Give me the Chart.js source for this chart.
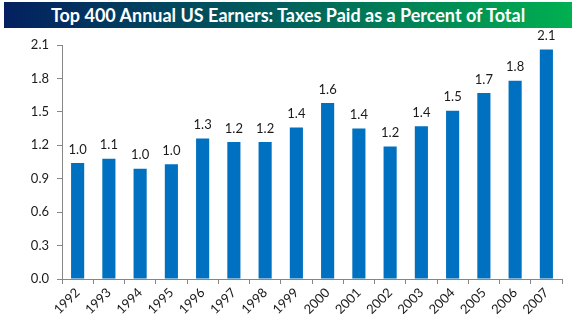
<!DOCTYPE html>
<html>
<head>
<meta charset="utf-8">
<script src="https://cdn.jsdelivr.net/npm/chart.js@4"></script>
<style>
    body { margin: 0; background: #fff; }
    #wrap { position: relative; width: 576px; height: 323px; }
    #title {
        position: absolute; left: 4px; top: 2px; width: 568px; height: 26px;
        background: linear-gradient(to right, #042060, #00625c 50%, #00b050);
        color: #fff; font: bold 18px Lato, sans-serif;
        line-height: 26px; text-align: center;
    }
    canvas { position: absolute; left: 0; top: 0; }
</style>
</head>
<body>
<div id="wrap">
    <div id="title">Top 400 Annual US Earners: Taxes Paid as a Percent of Total</div>
    <canvas id="myChart" width="576" height="323"></canvas>
</div>
<script>
const years = ['1992', '1993', '1994', '1995', '1996', '1997', '1998', '1999',
    '2000', '2001', '2002', '2003', '2004', '2005', '2006', '2007'];

const taxShare = [1.04, 1.08, 0.99, 1.03, 1.26, 1.23, 1.23, 1.36,
    1.58, 1.35, 1.19, 1.37, 1.51, 1.67, 1.78, 2.06];

const yTicks = [0, 0.3, 0.6, 0.9, 1.2, 1.5, 1.8, 2.1];

// value labels above each bar
const barLabels = {
    id: 'barLabels',
    afterDatasetsDraw(chart) {
        const ctx = chart.ctx;
        const meta = chart.getDatasetMeta(0);
        ctx.save();
        ctx.font = '13px Lato, sans-serif';
        ctx.fillStyle = '#1a1a1a';
        ctx.textAlign = 'center';
        ctx.textBaseline = 'bottom';
        meta.data.forEach(function (bar, i) {
            ctx.fillText(taxShare[i].toFixed(1), bar.x, bar.y - 7);
        });
        ctx.restore();
    }
};

const config = {
    type: 'bar',
    data: {
        labels: years,
        datasets: [{
            data: taxShare,
            backgroundColor: '#0070c0',
            barPercentage: 0.42,
            categoryPercentage: 1.0
        }]
    },
    options: {
        responsive: false,
        animation: false,
        layout: { padding: { top: 45, right: 14, left: 0, bottom: 0 } },
        plugins: { legend: { display: false }, tooltip: { enabled: false } },
        scales: {
            x: {
                grid: { drawOnChartArea: false, tickLength: 5, color: '#868686', offset: true },
                border: { color: '#868686' },
                ticks: {
                    color: '#1a1a1a',
                    font: { family: 'Lato', size: 13 },
                    minRotation: 45,
                    maxRotation: 45,
                    padding: 1
                },
                afterFit: function (scale) { scale.height = 44; }
            },
            y: {
                min: 0,
                max: 2.1,
                afterBuildTicks: function (scale) {
                    scale.ticks = yTicks.map(function (v) { return { value: v }; });
                },
                grid: { drawOnChartArea: false, tickLength: 5, color: '#868686' },
                border: { color: '#868686' },
                ticks: {
                    color: '#1a1a1a',
                    font: { family: 'Lato', size: 13 },
                    padding: 8,
                    callback: function (v) { return Number(v).toFixed(1); }
                },
                afterFit: function (scale) { scale.width = 62; }
            }
        }
    },
    plugins: [barLabels]
};

const myChart = new Chart(document.getElementById('myChart'), config);
</script>
</body>
</html>
